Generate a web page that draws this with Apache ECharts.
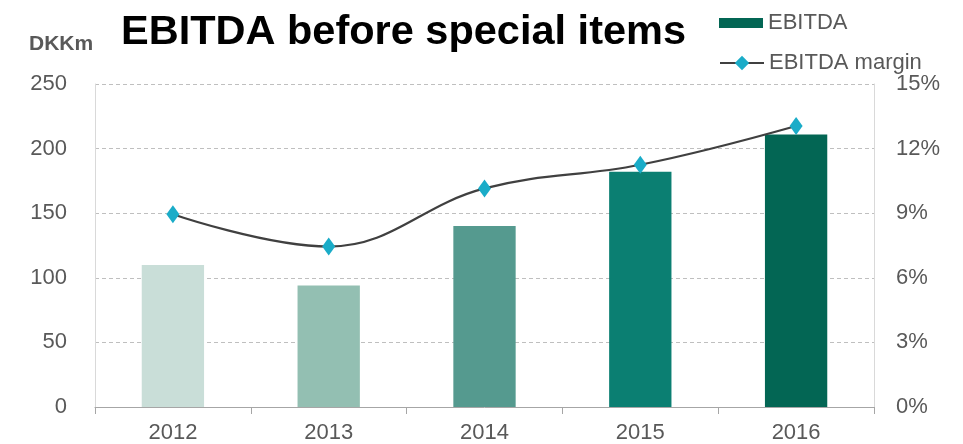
<!DOCTYPE html>
<html>
<head>
<meta charset="utf-8">
<script src="https://cdn.jsdelivr.net/npm/echarts@6/dist/echarts.min.js"></script>
<style>
html,body{margin:0;padding:0;background:#fff;}
#chart{width:963px;height:444px;}
</style>
</head>
<body>
<div id="chart"></div>
<script>
const categories = ['2012', '2013', '2014', '2015', '2016'];
const ebitda = [110, 94, 140, 182, 211];
const margin = [8.95, 7.45, 10.15, 11.25, 13.05];
const barColors = ['#C9DED8', '#93BFB2', '#559A8F', '#0B7F72', '#036654'];
const leftTicks = [0, 50, 100, 150, 200, 250];
const rightTicks = [0, 3, 6, 9, 12, 15];

const chart = echarts.init(document.getElementById('chart'));
const font = 'Liberation Sans, Arial, sans-serif';
chart.setOption({
  animation: false,
  textStyle: { fontFamily: font },
  title: [
    { text: 'EBITDA before special items', left: 116, top: 7,
      textStyle: { fontSize: 41.5, fontWeight: 'bold', color: '#000', fontFamily: font } },
    { text: 'DKKm', left: 24, top: 29,
      textStyle: { fontSize: 21, fontWeight: 'bold', color: '#595959', fontFamily: font } }
  ],
  legend: [
    { data: [{ name: 'EBITDA', icon: 'rect' }], left: 714, top: 7, itemWidth: 44, itemHeight: 10, itemGap: 4,
      textStyle: { fontSize: 22, color: '#595959', fontFamily: font },
      itemStyle: { color: '#036654' } },
    { data: ['EBITDA margin'], left: 714, top: 47, itemWidth: 44, itemHeight: 18, itemGap: 4,
      textStyle: { fontSize: 22, color: '#595959', fontFamily: font } }
  ],
  grid: { left: 95, right: 89, top: 84, bottom: 37, containLabel: false },
  xAxis: {
    type: 'category', data: categories, boundaryGap: true,
    axisLine: { show: true, lineStyle: { color: '#A6A6A6', width: 1 } },
    axisTick: { show: true, alignWithLabel: false, length: 7, lineStyle: { color: '#A6A6A6' } },
    axisLabel: { fontSize: 22, color: '#595959', margin: 15, fontFamily: font },
    splitLine: { show: false }
  },
  yAxis: [
    { type: 'value', min: leftTicks[0], max: leftTicks[leftTicks.length - 1], interval: 50,
      axisLine: { show: true, lineStyle: { color: '#D9D9D9' } },
      axisTick: { show: false },
      axisLabel: { fontSize: 22, color: '#595959', margin: 28, fontFamily: font },
      splitLine: { show: true, lineStyle: { color: '#BFBFBF', type: [4, 3] } } },
    { type: 'value', min: rightTicks[0], max: rightTicks[rightTicks.length - 1], interval: 3,
      axisLine: { show: true, lineStyle: { color: '#D9D9D9' } },
      axisTick: { show: false },
      axisLabel: { fontSize: 22, color: '#595959', margin: 22, fontFamily: font,
        formatter: v => v + '%' },
      splitLine: { show: false } }
  ],
  series: [
    { name: 'EBITDA', type: 'bar', yAxisIndex: 0, barWidth: '40%',
      data: ebitda.map((v, i) => ({ value: v, itemStyle: { color: barColors[i] } })) },
    { name: 'EBITDA margin', type: 'line', yAxisIndex: 1, data: margin,
      smooth: 0.4, symbol: 'diamond', symbolSize: [13, 18], showSymbol: true,
      lineStyle: { color: '#404040', width: 2.2 },
      itemStyle: { color: '#1AACC8' }, z: 5 }
  ]
});
</script>
</body>
</html>
